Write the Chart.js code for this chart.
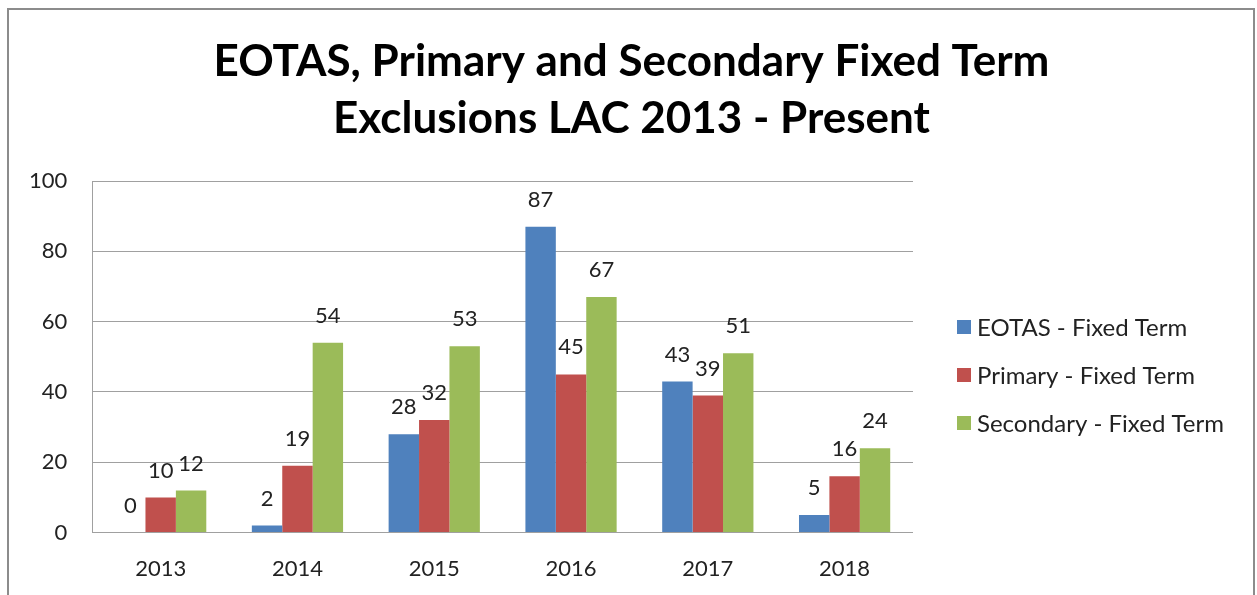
<!DOCTYPE html>
<html>
<head>
<meta charset="utf-8">
<script src="https://cdn.jsdelivr.net/npm/chart.js@4.4.0/dist/chart.umd.min.js"></script>
<style>
html, body { margin: 0; padding: 0; background: #fff; overflow: hidden; }
#frame { position: absolute; left: 7px; top: 8px; width: 1244px; height: 640px; border: 2px solid #8c8c8c; }
#wrap { position: absolute; left: 0; top: 0; width: 1257px; height: 595px; }
</style>
</head>
<body>
<div id="frame"></div>
<div id="wrap"><canvas id="chart"></canvas></div>
<script>
const years = ['2013', '2014', '2015', '2016', '2017', '2018'];
const eotas = [0, 2, 28, 87, 43, 5];
const primary = [10, 19, 32, 45, 39, 16];
const secondary = [12, 54, 53, 67, 51, 24];
const seriesNames = ['EOTAS - Fixed Term', 'Primary - Fixed Term', 'Secondary - Fixed Term'];
const seriesColors = ['#4F81BD', '#C0504D', '#9BBB59'];
const yTicks = [0, 20, 40, 60, 80, 100];
const titleLines = ['EOTAS, Primary and Secondary Fixed Term', 'Exclusions LAC 2013 - Present'];

const FONT = 'Lato';

// title centred on the whole canvas (built-in one centres between the paddings)
const pageTitle = {
    id: 'pageTitle',
    afterDraw(chart) {
        const ctx = chart.ctx;
        ctx.save();
        ctx.font = 'bold 44px ' + FONT;
        ctx.fillStyle = '#000';
        ctx.textAlign = 'center';
        ctx.textBaseline = 'middle';
        titleLines.forEach((t, i) => ctx.fillText(t, chart.width / 2 + 3, 62 + i * 57));
        ctx.restore();
    }
};

// numbers above each bar
const valueLabels = {
    id: 'valueLabels',
    afterDatasetsDraw(chart) {
        const ctx = chart.ctx;
        ctx.save();
        ctx.font = '22px ' + FONT;
        ctx.fillStyle = '#222';
        ctx.textAlign = 'center';
        ctx.textBaseline = 'middle';
        chart.data.datasets.forEach((ds, i) => {
            chart.getDatasetMeta(i).data.forEach((bar, j) => {
                ctx.fillText(ds.data[j], bar.x, bar.y - 27);
            });
        });
        ctx.restore();
    }
};

// legend on the right, excel style
const sideLegend = {
    id: 'sideLegend',
    afterDraw(chart) {
        const ctx = chart.ctx;
        const x = chart.chartArea.right + 44;
        ctx.save();
        ctx.font = '24px ' + FONT;
        ctx.textBaseline = 'middle';
        chart.data.datasets.forEach((ds, i) => {
            const y = 327 + i * 48;
            ctx.fillStyle = ds.backgroundColor;
            ctx.fillRect(x, y - 7, 14, 14);
            ctx.fillStyle = '#222';
            ctx.fillText(ds.label, x + 20, y + 1);
        });
        ctx.restore();
    }
};

const seriesData = [eotas, primary, secondary];

new Chart(document.getElementById('chart'), {
    type: 'bar',
    data: {
        labels: years,
        datasets: seriesData.map((d, i) => ({
            label: seriesNames[i],
            data: d,
            backgroundColor: seriesColors[i],
            barPercentage: 1,
            categoryPercentage: 0.667
        }))
    },
    options: {
        responsive: true,
        maintainAspectRatio: false,
        animation: false,
        layout: { padding: { left: 4, right: 344, top: 181, bottom: 13 } },
        plugins: {
            legend: { display: false },
            tooltip: { enabled: false },
            title: { display: false }
        },
        scales: {
            y: {
                min: 0,
                max: 100,
                afterBuildTicks: axis => { axis.ticks = yTicks.map(v => ({ value: v })); },
                ticks: { color: '#222', font: { family: FONT, size: 22 }, padding: 25 },
                grid: { color: '#a0a0a0', drawTicks: false },
                border: { color: '#a0a0a0' }
            },
            x: {
                ticks: { color: '#222', font: { family: FONT, size: 22 }, padding: 0 },
                grid: { display: false, drawTicks: true, tickLength: 23 },
                border: { display: false }
            }
        }
    },
    plugins: [valueLabels, sideLegend, pageTitle]
});
</script>
</body>
</html>
